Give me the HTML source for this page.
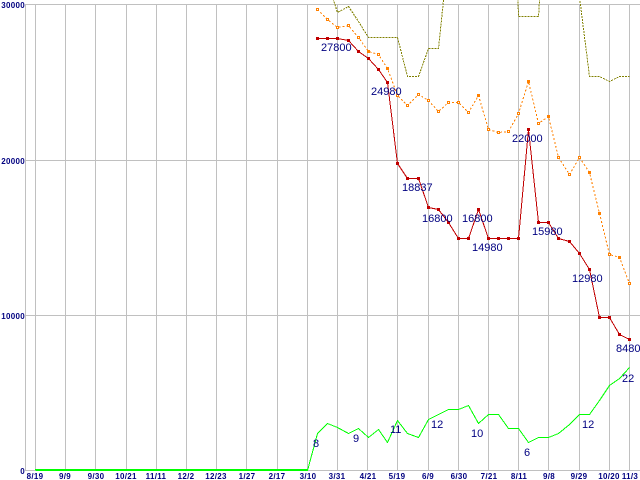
<!DOCTYPE html>
<html><head><meta charset="utf-8"><style>
html,body{margin:0;padding:0;background:#fff;}
svg{display:block;}
.ax{font-family:"Liberation Sans",sans-serif;font-size:8px;font-weight:bold;fill:#000080;letter-spacing:0.3px;}
.lb{font-family:"Liberation Sans",sans-serif;font-size:11px;fill:#000080;}
</style></head><body>
<svg width="640" height="480" viewBox="0 0 640 480" xmlns="http://www.w3.org/2000/svg">
<rect width="640" height="480" fill="#fff"/>
<g stroke="#c0c0c0" stroke-width="1" shape-rendering="crispEdges" fill="none">
<line x1="25" y1="4.5" x2="640" y2="4.5"/>
<line x1="25" y1="160.5" x2="640" y2="160.5"/>
<line x1="25" y1="315.5" x2="640" y2="315.5"/>
<line x1="25" y1="470.5" x2="640" y2="470.5"/>
<line x1="25.5" y1="4" x2="25.5" y2="471"/>
<line x1="35.5" y1="4" x2="35.5" y2="471"/>
<line x1="65.5" y1="4" x2="65.5" y2="471"/>
<line x1="95.5" y1="4" x2="95.5" y2="471"/>
<line x1="126.5" y1="4" x2="126.5" y2="471"/>
<line x1="156.5" y1="4" x2="156.5" y2="471"/>
<line x1="186.5" y1="4" x2="186.5" y2="471"/>
<line x1="216.5" y1="4" x2="216.5" y2="471"/>
<line x1="246.5" y1="4" x2="246.5" y2="471"/>
<line x1="277.5" y1="4" x2="277.5" y2="471"/>
<line x1="307.5" y1="4" x2="307.5" y2="471"/>
<line x1="337.5" y1="4" x2="337.5" y2="471"/>
<line x1="367.5" y1="4" x2="367.5" y2="471"/>
<line x1="397.5" y1="4" x2="397.5" y2="471"/>
<line x1="428.5" y1="4" x2="428.5" y2="471"/>
<line x1="458.5" y1="4" x2="458.5" y2="471"/>
<line x1="488.5" y1="4" x2="488.5" y2="471"/>
<line x1="518.5" y1="4" x2="518.5" y2="471"/>
<line x1="548.5" y1="4" x2="548.5" y2="471"/>
<line x1="579.5" y1="4" x2="579.5" y2="471"/>
<line x1="609.5" y1="4" x2="609.5" y2="471"/>
<line x1="629.5" y1="4" x2="629.5" y2="471"/>
</g>

<!-- olive dashed -->
<polyline fill="none" stroke="#808000" stroke-width="1" stroke-dasharray="2,1" shape-rendering="crispEdges"
points="317.5,-50 327.5,-18 337.5,12.5 348.5,6.5 358.5,21.5 368.5,37.5 378.5,37.5 387.5,37.5 397.5,37.5 407.5,76.5 418.5,76.5 428.5,48.5 438.5,48.5 448.5,-48 458.5,-300 468.5,-300 478.5,-300 488.5,-300 498.5,-300 508.5,-300 518.5,16.5 528.5,16.5 538.5,16.5 548.5,-144 558.5,-300 569.5,-100 579.5,-3 589.5,76.5 599.5,76.5 609.5,81.5 619.5,76.5 629.5,76.5"/>

<!-- orange dotted -->
<polyline fill="none" stroke="#ff8000" stroke-width="1" stroke-dasharray="2,2" shape-rendering="crispEdges"
points="317.5,9.5 327.5,19.5 337.5,27.5 348.5,25.5 358.5,37.5 368.5,51.5 378.5,54.5 387.5,68.5 397.5,95.5 407.5,105.5 418.5,94.5 428.5,100.5 438.5,111.5 448.5,102.5 458.5,102.5 468.5,112.5 478.5,95.5 488.5,129.5 498.5,132.5 508.5,131.5 518.5,113.5 528.5,81.5 538.5,123.5 548.5,116.5 558.5,157.5 569.5,174.5 579.5,157.5 589.5,172.5 599.5,213.5 609.5,254.5 619.5,257.5 629.5,283.5"/>
<g fill="#ff8000" shape-rendering="crispEdges">
<rect x="316" y="8" width="3" height="3"/><rect x="326" y="18" width="3" height="3"/><rect x="336" y="26" width="3" height="3"/><rect x="347" y="24" width="3" height="3"/><rect x="357" y="36" width="3" height="3"/><rect x="367" y="50" width="3" height="3"/><rect x="377" y="53" width="3" height="3"/><rect x="386" y="67" width="3" height="3"/><rect x="396" y="94" width="3" height="3"/><rect x="406" y="104" width="3" height="3"/><rect x="417" y="93" width="3" height="3"/><rect x="427" y="99" width="3" height="3"/><rect x="437" y="110" width="3" height="3"/><rect x="447" y="101" width="3" height="3"/><rect x="457" y="101" width="3" height="3"/><rect x="467" y="111" width="3" height="3"/><rect x="477" y="94" width="3" height="3"/><rect x="487" y="128" width="3" height="3"/><rect x="497" y="131" width="3" height="3"/><rect x="507" y="130" width="3" height="3"/><rect x="517" y="112" width="3" height="3"/><rect x="527" y="80" width="3" height="3"/><rect x="537" y="122" width="3" height="3"/><rect x="547" y="115" width="3" height="3"/><rect x="557" y="156" width="3" height="3"/><rect x="568" y="173" width="3" height="3"/><rect x="578" y="156" width="3" height="3"/><rect x="588" y="171" width="3" height="3"/><rect x="598" y="212" width="3" height="3"/><rect x="608" y="253" width="3" height="3"/><rect x="618" y="256" width="3" height="3"/><rect x="628" y="282" width="3" height="3"/>
</g>
<g fill="#fff" shape-rendering="crispEdges">
<rect x="317" y="9" width="1" height="1"/><rect x="327" y="19" width="1" height="1"/><rect x="337" y="27" width="1" height="1"/><rect x="348" y="25" width="1" height="1"/><rect x="358" y="37" width="1" height="1"/><rect x="378" y="54" width="1" height="1"/><rect x="397" y="95" width="1" height="1"/><rect x="407" y="105" width="1" height="1"/><rect x="418" y="94" width="1" height="1"/><rect x="428" y="100" width="1" height="1"/><rect x="438" y="111" width="1" height="1"/><rect x="448" y="102" width="1" height="1"/><rect x="458" y="102" width="1" height="1"/><rect x="468" y="112" width="1" height="1"/><rect x="488" y="129" width="1" height="1"/><rect x="498" y="132" width="1" height="1"/><rect x="508" y="131" width="1" height="1"/><rect x="518" y="113" width="1" height="1"/><rect x="538" y="123" width="1" height="1"/><rect x="558" y="157" width="1" height="1"/><rect x="569" y="174" width="1" height="1"/><rect x="579" y="157" width="1" height="1"/><rect x="609" y="254" width="1" height="1"/><rect x="629" y="283" width="1" height="1"/>
</g>

<!-- red solid -->
<polyline fill="none" stroke="#c00000" stroke-width="1" shape-rendering="crispEdges"
points="317.5,38.5 327.5,38.5 337.5,38.5 348.5,40.5 358.5,51.5 368.5,58.5 378.5,69.5 387.5,82.5 397.5,163.5 407.5,178.5 418.5,178.5 428.5,207.5 438.5,209.5 448.5,222.5 458.5,238.5 468.5,238.5 478.5,209.5 488.5,238.5 498.5,238.5 508.5,238.5 518.5,238.5 528.5,129.5 538.5,222.5 548.5,222.5 558.5,238.5 569.5,241.5 579.5,253.5 589.5,269.5 599.5,317.5 609.5,317.5 619.5,334.5 629.5,339.5"/>
<g fill="#c00000" shape-rendering="crispEdges">
<rect x="316" y="37" width="3" height="3"/><rect x="326" y="37" width="3" height="3"/><rect x="336" y="37" width="3" height="3"/><rect x="347" y="39" width="3" height="3"/><rect x="357" y="50" width="3" height="3"/><rect x="367" y="57" width="3" height="3"/><rect x="377" y="68" width="3" height="3"/><rect x="386" y="81" width="3" height="3"/><rect x="396" y="162" width="3" height="3"/><rect x="406" y="177" width="3" height="3"/><rect x="417" y="177" width="3" height="3"/><rect x="427" y="206" width="3" height="3"/><rect x="437" y="208" width="3" height="3"/><rect x="447" y="221" width="3" height="3"/><rect x="457" y="237" width="3" height="3"/><rect x="467" y="237" width="3" height="3"/><rect x="477" y="208" width="3" height="3"/><rect x="487" y="237" width="3" height="3"/><rect x="497" y="237" width="3" height="3"/><rect x="507" y="237" width="3" height="3"/><rect x="517" y="237" width="3" height="3"/><rect x="527" y="128" width="3" height="3"/><rect x="537" y="221" width="3" height="3"/><rect x="547" y="221" width="3" height="3"/><rect x="557" y="237" width="3" height="3"/><rect x="568" y="240" width="3" height="3"/><rect x="578" y="252" width="3" height="3"/><rect x="588" y="268" width="3" height="3"/><rect x="598" y="316" width="3" height="3"/><rect x="608" y="316" width="3" height="3"/><rect x="618" y="333" width="3" height="3"/><rect x="628" y="338" width="3" height="3"/>
</g>

<!-- green solid -->
<polyline fill="none" stroke="#00ff00" stroke-width="1" shape-rendering="crispEdges"
points="35.5,470.5 307.5,470.5 317.5,433.5 327.5,423.5 337.5,427.5 348.5,433.5 358.5,428.5 368.5,437.5 378.5,429.5 387.5,442.5 397.5,420.5 407.5,433.5 418.5,437.5 428.5,419.5 438.5,414.5 448.5,409.5 458.5,409.5 468.5,405.5 478.5,423.5 488.5,414.5 498.5,414.5 508.5,428.5 518.5,428.5 528.5,442.5 538.5,437.5 548.5,437.5 558.5,433.5 569.5,424.5 579.5,414.5 589.5,414.5 599.5,400.5 609.5,385.5 619.5,378.5 629.5,367.5"/>
<line x1="35" y1="469.5" x2="308" y2="469.5" stroke="#00ff00" stroke-width="1" shape-rendering="crispEdges"/>

<!-- value labels -->
<g class="lb">
<text x="321" y="51">27800</text>
<text x="371" y="95">24980</text>
<text x="402" y="191">18837</text>
<text x="422" y="222">16800</text>
<text x="462" y="222">16800</text>
<text x="472" y="251">14980</text>
<text x="512" y="142">22000</text>
<text x="532" y="235">15980</text>
<text x="572" y="282">12980</text>
<text x="616" y="352">8480</text>
<text x="313" y="447">8</text>
<text x="353" y="442">9</text>
<text x="390" y="433">11</text>
<text x="431" y="428">12</text>
<text x="471" y="437">10</text>
<text x="524" y="456">6</text>
<text x="582" y="428">12</text>
<text x="622" y="382">22</text>
</g>

<!-- axis labels -->
<g class="ax" text-anchor="end">
<text x="25" y="8">30000</text>
<text x="25" y="164">20000</text>
<text x="25" y="319">10000</text>
<text x="25" y="474">0</text>
</g>
<g class="ax" text-anchor="middle">
<text x="35" y="479">8/19</text>
<text x="65" y="479">9/9</text>
<text x="96" y="479">9/30</text>
<text x="126" y="479">10/21</text>
<text x="156" y="479">11/11</text>
<text x="186" y="479">12/2</text>
<text x="216" y="479">12/23</text>
<text x="247" y="479">1/27</text>
<text x="277" y="479">2/17</text>
<text x="308" y="479">3/10</text>
<text x="337" y="479">3/31</text>
<text x="368" y="479">4/21</text>
<text x="397" y="479">5/19</text>
<text x="428" y="479">6/9</text>
<text x="459" y="479">6/30</text>
<text x="489" y="479">7/21</text>
<text x="519" y="479">8/11</text>
<text x="549" y="479">9/8</text>
<text x="579" y="479">9/29</text>
<text x="609" y="479">10/20</text>
<text x="630" y="479">11/3</text>
</g>
</svg>
</body></html>
